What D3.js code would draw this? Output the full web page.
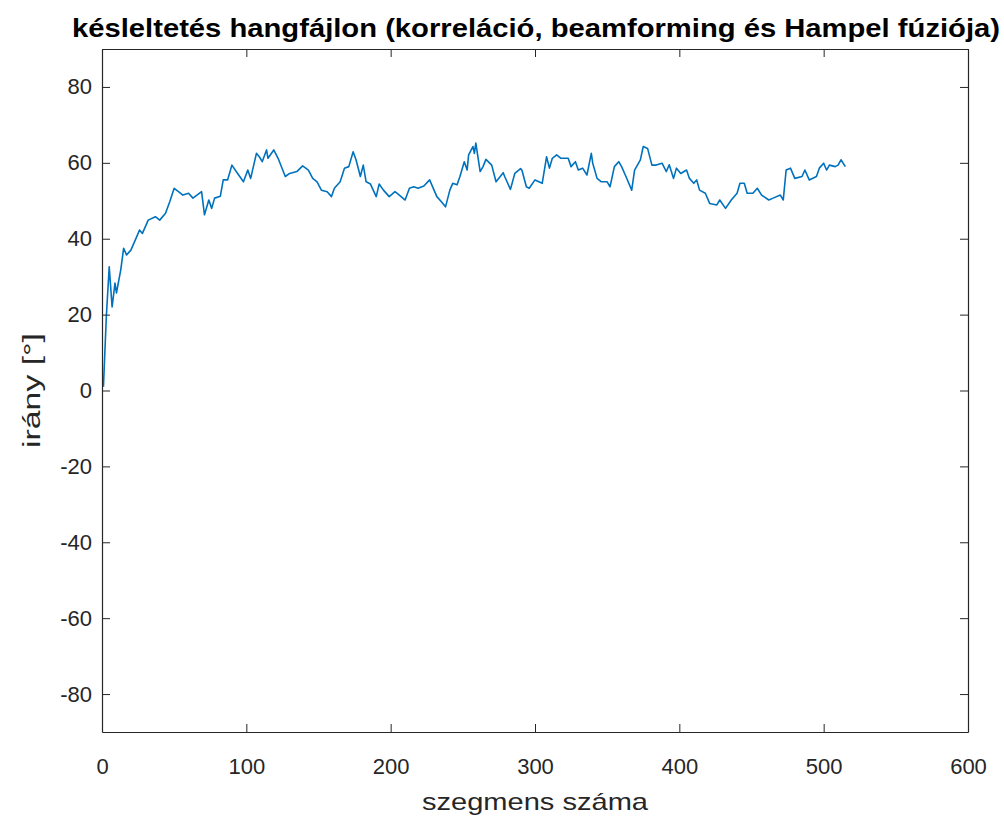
<!DOCTYPE html>
<html>
<head>
<meta charset="utf-8">
<script src="https://cdn.jsdelivr.net/npm/d3@7"></script>
<style>
  html, body { margin: 0; padding: 0; background: #fff; }
  svg { display: block; }
  text { font-family: "Liberation Sans", Arial, Helvetica, sans-serif; }
</style>
</head>
<body>
<div id="chart"></div>
<script>
// Segment index and estimated direction (degrees) for each segment
const segIndex = [1, 3, 5, 7, 9, 10, 13, 15, 17, 20, 24, 26, 28, 32, 37, 40, 44, 47, 50, 53,
  56, 60, 63, 69, 71, 74, 76, 78, 82, 84, 87, 90, 93, 98, 101, 103, 107, 109, 111, 114,
  115, 119, 122, 127, 130, 135, 139, 143, 146, 149, 152, 156, 159, 161, 165, 168, 171, 174, 176, 179,
  181, 183, 186, 190, 192, 195, 199, 203, 206, 210, 213, 216, 219, 223, 227, 232, 235, 238, 241, 243,
  246, 248, 251, 253, 254, 257, 258, 259, 262, 264, 266, 270, 273, 278, 279, 283, 286, 290, 291, 294,
  296, 300, 305, 308, 310, 312, 315, 318, 323, 325, 328, 330, 333, 336, 339, 340, 343, 346, 350, 352,
  355, 358, 360, 363, 367, 369, 373, 375, 378, 381, 384, 388, 391, 393, 396, 398, 401, 405, 407, 410,
  412, 414, 418, 421, 426, 428, 432, 436, 440, 442, 445, 447, 451, 454, 457, 462, 465, 470, 472, 474,
  477, 480, 485, 487, 490, 495, 497, 500, 502, 504, 508, 510, 512, 515];
const direction = [1, 19.5, 32.6, 22, 28.3, 25.7, 31.8, 37.5, 35.7, 37, 40.5, 42.3, 41.4, 44.9, 45.8, 44.9, 46.7, 49.8, 53.3, 52.4,
  51.5, 52, 50.7, 52.4, 46.3, 50.2, 48, 50.7, 51.2, 55.5, 55.5, 59.4, 57.7, 55, 58.1, 55.9, 62.5, 61.6, 60.3, 63.4,
  61.2, 63.4, 61.2, 56.4, 57.2, 57.7, 59.2, 58.1, 55.9, 55, 52.8, 52.4, 51.1, 53.3, 55, 58.6, 59, 62.9, 60.8, 56.4,
  59.4, 55, 54.4, 51.1, 54.4, 52.8, 51.1, 52.4, 51.5, 50.2, 53.3, 53.7, 53.3, 53.9, 55.5, 51.1, 49.8, 48.4, 52.8, 54.6,
  54.2, 56.4, 60.3, 58.1, 62.1, 64.3, 62.5, 65.2, 57.7, 59, 60.9, 59.4, 55, 57.4, 56.4, 53, 57.2, 58.5, 58, 53.7,
  53.3, 55.5, 54.6, 61.6, 58.6, 61.2, 62.1, 61.2, 61.2, 59, 60.3, 58.1, 58.6, 56.8, 62.5, 59.9, 55.9, 55, 55, 53.7,
  59, 60.3, 59, 56.4, 52.8, 58.1, 60.8, 64.3, 63.8, 59.4, 59.4, 59.9, 57.7, 59.5, 55.9, 58.6, 57.2, 58.1, 55.9, 54.6,
  55.5, 52.8, 52, 49.3, 48.9, 50.2, 48, 50.2, 52, 54.6, 54.6, 52, 52, 53.3, 51.5, 50.2, 50.7, 51.5, 50.2, 58.1,
  58.6, 55.9, 56.4, 58.1, 55.5, 56.4, 58.6, 59.9, 58.1, 59.4, 59, 59.4, 60.8, 59];

const xTicks = [0, 100, 200, 300, 400, 500, 600];
const yTicks = [-80, -60, -40, -20, 0, 20, 40, 60, 80];

const titleText = "késleltetés hangfájlon (korreláció, beamforming és Hampel fúziója)";
const xLabelText = "szegmens száma";
const yLabelText = "irány [°]";

const W = 1004, H = 816;
const margin = { left: 102, right: 1004 - 968, top: 49, bottom: 816 - 732 };
const axisColor = "#262626";
const tickLen = 8;

const svg = d3.select("#chart").append("svg")
  .attr("width", W).attr("height", H);

const x = d3.scaleLinear().domain([0, 600]).range([margin.left, W - margin.right]);
const y = d3.scaleLinear().domain([-90, 90]).range([H - margin.bottom, margin.top]);

const series = segIndex.map((s, i) => ({ s, v: direction[i] }));
const fmt = d => String(d); // plain hyphen-minus for negatives

// data line, clipped to the axes box
svg.append("clipPath").attr("id", "plot-clip")
  .append("rect")
  .attr("x", x(0)).attr("y", y(90))
  .attr("width", x(600) - x(0)).attr("height", y(-90) - y(90));

svg.append("path")
  .datum(series)
  .attr("clip-path", "url(#plot-clip)")
  .attr("fill", "none")
  .attr("stroke", "#0072BD")
  .attr("stroke-width", 1.6)
  .attr("stroke-linejoin", "round")
  .attr("d", d3.line().x(d => x(d.s)).y(d => y(d.v)));

// axes: bottom/left with labels, top/right mirrored ticks, ticks pointing inward
function styleAxis(g) {
  g.selectAll(".domain").attr("stroke", axisColor).attr("stroke-width", 1.2);
  g.selectAll(".tick line").attr("stroke", axisColor).attr("stroke-width", 1);
  g.selectAll(".tick text").attr("fill", axisColor)
    .style("font-size", "22px");
}

svg.append("g")
  .attr("transform", `translate(0,${y(-90)})`)
  .call(d3.axisBottom(x).tickValues(xTicks).tickFormat(fmt).tickSizeInner(-tickLen).tickSizeOuter(0).tickPadding(26))
  .call(styleAxis);

svg.append("g")
  .attr("transform", `translate(0,${y(90)})`)
  .call(d3.axisTop(x).tickValues(xTicks).tickSizeInner(-tickLen).tickSizeOuter(0).tickFormat(""))
  .call(styleAxis);

svg.append("g")
  .attr("transform", `translate(${x(0)},0)`)
  .call(d3.axisLeft(y).tickValues(yTicks).tickFormat(fmt).tickSizeInner(-tickLen).tickSizeOuter(0).tickPadding(10))
  .call(styleAxis);

svg.append("g")
  .attr("transform", `translate(${x(600)},0)`)
  .call(d3.axisRight(y).tickValues(yTicks).tickSizeInner(-tickLen).tickSizeOuter(0).tickFormat(""))
  .call(styleAxis);

// title
svg.append("text")
  .attr("x", (x(0) + x(600)) / 2 + 1).attr("y", 37)
  .attr("text-anchor", "middle")
  .attr("fill", "#000")
  .attr("textLength", 928).attr("lengthAdjust", "spacingAndGlyphs")
  .style("font-size", "25px").style("font-weight", "bold")
  .text(titleText);

// axis labels
svg.append("text")
  .attr("x", (x(0) + x(600)) / 2).attr("y", 810)
  .attr("text-anchor", "middle")
  .attr("fill", axisColor)
  .attr("textLength", 226).attr("lengthAdjust", "spacingAndGlyphs")
  .style("font-size", "24px")
  .text(xLabelText);

svg.append("text")
  .attr("transform", `translate(40,${(y(90) + y(-90)) / 2}) rotate(-90)`)
  .attr("text-anchor", "middle")
  .attr("fill", axisColor)
  .attr("textLength", 115).attr("lengthAdjust", "spacingAndGlyphs")
  .style("font-size", "23px")
  .text(yLabelText);
</script>
</body>
</html>
